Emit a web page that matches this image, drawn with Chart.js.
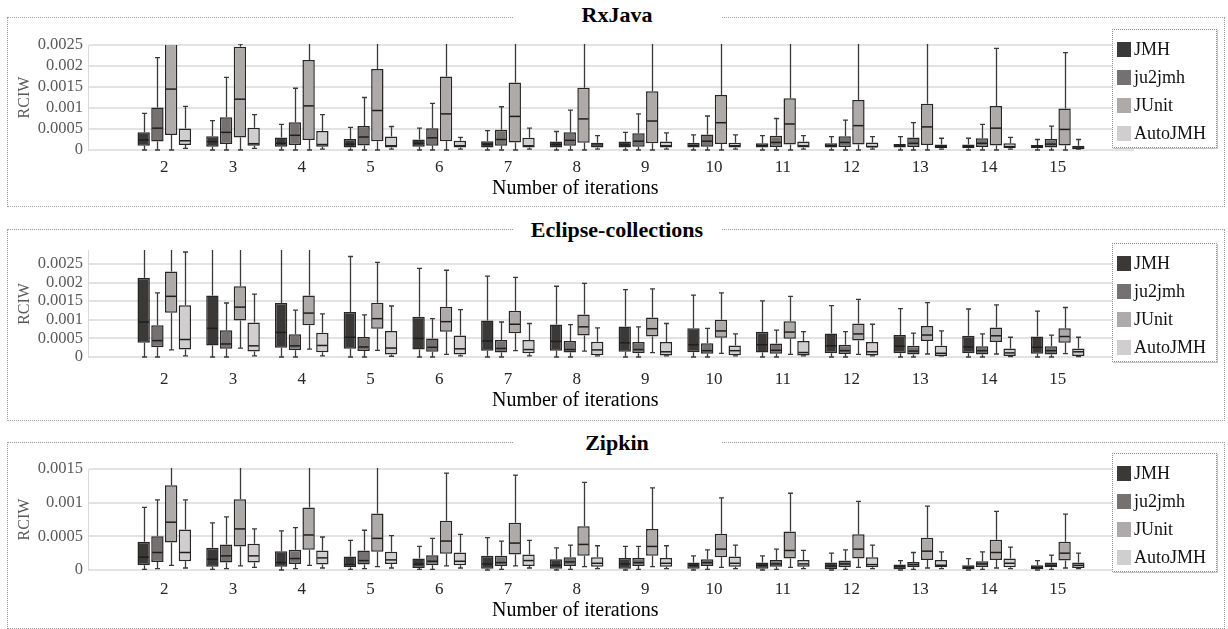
<!DOCTYPE html>
<html>
<head>
<meta charset="utf-8">
<script src="https://cdn.jsdelivr.net/npm/chart.js@4.4.1/dist/chart.umd.min.js"></script>
<style>
  body { margin: 0; width: 1228px; height: 629px; background: #fff; position: relative; overflow: hidden;
         font-family: 'Liberation Serif', 'Times New Roman', serif; }
  .panel { position: absolute; left: 7px; width: 1216px; border: 1px dotted #9a9a9a; }
  .title { position: absolute; left: 513px; width: 208px; height: 26px; line-height: 26px; text-align: center;
           background: #fff; font-weight: bold; font-size: 22px; color: #000; z-index: 3; }
  .plot { position: absolute; left: 0; width: 1228px; z-index: 2; }
  .legend { position: absolute; left: 1112px; width: 103px; height: 117px; border: 1px dotted #8c8c8c;
            box-shadow: 1px 1px 0 #c8c8c8; background: #fff; z-index: 4; }
  .legend div { position: absolute; left: 4px; height: 20px; line-height: 20px; font-size: 18px; color: #111; white-space: nowrap; }
  .legend span { display: inline-block; width: 14px; height: 15px; vertical-align: -2px; margin-right: 3px; }
</style>
</head>
<body>

<div class="panel" style="top:17px;height:188px"></div>
<div class="title" style="top:2px">RxJava</div>
<div class="plot" style="top:20px;height:185px"><canvas id="rx"></canvas></div>
<div class="legend" id="leg-rx" style="top:29px"></div>

<div class="panel" style="top:229px;height:190px"></div>
<div class="title" style="top:217px">Eclipse-collections</div>
<div class="plot" style="top:236px;height:176px"><canvas id="ec"></canvas></div>
<div class="legend" id="leg-ec" style="top:243px"></div>

<div class="panel" style="top:442px;height:185px"></div>
<div class="title" style="top:430px">Zipkin</div>
<div class="plot" style="top:452px;height:173px"><canvas id="zk"></canvas></div>
<div class="legend" id="leg-zk" style="top:453px"></div>

<script>
// --- Data: one row per iteration count, [min, q1, median, q3, max] ---
const categories = [2, 3, 4, 5, 6, 7, 8, 9, 10, 11, 12, 13, 14, 15];
const seriesNames = ['JMH', 'ju2jmh', 'JUnit', 'AutoJMH'];
const seriesColors = ['#3b3838', '#767171', '#aeaaaa', '#d0cece'];

const rxTicks = [0, 0.0005, 0.001, 0.0015, 0.002, 0.0025];
const ecTicks = [0, 0.0005, 0.001, 0.0015, 0.002, 0.0025];
const zkTicks = [0, 0.0005, 0.001, 0.0015];

// RxJava
const rxJMH = [
  [0, 0.0001, 0.00024, 0.00042, 0.00087], [0, 0.00008, 0.0002, 0.00033, 0.0007],
  [0, 0.00008, 0.00016, 0.0003, 0.00061], [0, 0.00006, 0.00014, 0.00026, 0.00054],
  [0, 0.00008, 0.00016, 0.00025, 0.00052], [0, 0.00006, 0.00014, 0.00021, 0.00046],
  [0, 0.00006, 0.00013, 0.0002, 0.00044], [0, 0.00006, 0.00012, 0.0002, 0.00042],
  [0, 0.00006, 0.0001, 0.00017, 0.00036], [0, 0.00006, 0.0001, 0.00016, 0.00034],
  [0, 0.00006, 0.0001, 0.00016, 0.00032], [0, 0.00006, 0.0001, 0.00014, 0.00032],
  [0, 0.00004, 0.00008, 0.00013, 0.00028], [0, 0.00004, 0.00008, 0.00012, 0.00025]
];
const rxJu2jmh = [
  [0, 0.0002, 0.00052, 0.00101, 0.0022], [0, 0.00014, 0.00042, 0.00078, 0.00173],
  [0, 0.00012, 0.00035, 0.00066, 0.00147], [0, 0.00011, 0.00031, 0.00057, 0.00125],
  [0, 0.0001, 0.00029, 0.00052, 0.00111], [0, 0.0001, 0.00025, 0.00048, 0.00103],
  [0, 0.0001, 0.00023, 0.00042, 0.00095], [0, 0.00008, 0.00021, 0.0004, 0.00086],
  [0, 0.00008, 0.00021, 0.00037, 0.00081], [0, 0.00007, 0.00018, 0.00034, 0.00075],
  [0, 0.00007, 0.00018, 0.00033, 0.00071], [0, 0.00007, 0.00016, 0.0003, 0.00065],
  [0, 0.00007, 0.00016, 0.00028, 0.00061], [0, 0.00006, 0.00014, 0.00026, 0.00057]
];
const rxJUnit = [
  [0, 0.00036, 0.00145, 0.003, 0.0055], [0, 0.0003, 0.00121, 0.00246, 0.00252],
  [0, 0.00024, 0.00105, 0.00214, 0.0045], [0, 0.00021, 0.00094, 0.00193, 0.0042],
  [0, 0.00021, 0.00086, 0.00175, 0.004], [0, 0.00018, 0.0008, 0.00161, 0.0038],
  [0, 0.00017, 0.00074, 0.00148, 0.0035], [0, 0.00016, 0.00069, 0.0014, 0.0033],
  [0, 0.00014, 0.00065, 0.00131, 0.0031], [0, 0.00013, 0.00062, 0.00123, 0.003],
  [0, 0.00013, 0.00058, 0.00119, 0.0029], [0, 0.00012, 0.00055, 0.0011, 0.0027],
  [0, 0.00011, 0.00052, 0.00105, 0.00242], [0, 0.00011, 0.00049, 0.00099, 0.00232]
];
const rxAutoJMH = [
  [0.00004, 0.00012, 0.00022, 0.00051, 0.00104], [0.00004, 0.0001, 0.00015, 0.00053, 0.00084],
  [0.00002, 0.00008, 0.00013, 0.00045, 0.00084], [0.00002, 0.00006, 0.0001, 0.00032, 0.00056],
  [0.00002, 0.00006, 0.0001, 0.00022, 0.0003], [0.00002, 0.00006, 0.0001, 0.00029, 0.00052],
  [0.00002, 0.00006, 0.00012, 0.00017, 0.00034], [0.00002, 0.00006, 0.0001, 0.0002, 0.00041],
  [0.00002, 0.00006, 0.0001, 0.00017, 0.00036], [0.00002, 0.00006, 0.0001, 0.0002, 0.00034],
  [0.00002, 0.00006, 0.00008, 0.00018, 0.00032], [0.00002, 0.00004, 0.00008, 0.00013, 0.00028],
  [0.00002, 0.00004, 0.00008, 0.00016, 0.0003], [0.00002, 0.00002, 0.00005, 0.0001, 0.00025]
];

// Eclipse-collections
const ecJMH = [
  [0, 0.00038, 0.00094, 0.00213, 0.0035], [0, 0.00031, 0.00077, 0.00165, 0.0035],
  [0, 0.00025, 0.00066, 0.00145, 0.0034], [0, 0.00022, 0.00053, 0.00121, 0.0027],
  [0, 0.0002, 0.0005, 0.00108, 0.00238], [0, 0.00017, 0.00043, 0.00098, 0.00217],
  [0, 0.00017, 0.00042, 0.00087, 0.0019], [0, 0.00014, 0.00038, 0.00082, 0.00181],
  [0, 0.00013, 0.00033, 0.00077, 0.00166], [0, 0.00012, 0.00033, 0.00068, 0.00151],
  [0, 0.0001, 0.0003, 0.00063, 0.00138], [0, 0.0001, 0.00029, 0.00059, 0.0013],
  [0, 0.0001, 0.00027, 0.00057, 0.00129], [0, 0.00009, 0.00026, 0.00055, 0.00123]
];
const ecJu2jmh = [
  [0, 0.00026, 0.00044, 0.00085, 0.00172], [0, 0.00022, 0.00035, 0.00072, 0.00145],
  [0, 0.00018, 0.0003, 0.00061, 0.00126], [0, 0.00016, 0.00027, 0.00054, 0.00113],
  [0, 0.00014, 0.00026, 0.0005, 0.00103], [0, 0.00012, 0.00023, 0.00046, 0.00094],
  [0, 0.00012, 0.0002, 0.00043, 0.00087], [0, 0.0001, 0.0002, 0.0004, 0.00081],
  [0, 0.00009, 0.00017, 0.00037, 0.00077], [0, 0.00009, 0.00018, 0.00036, 0.00072],
  [0, 0.00008, 0.00017, 0.00033, 0.00068], [0, 0.00007, 0.00016, 0.0003, 0.00064],
  [0, 0.00007, 0.00017, 0.00029, 0.00062], [0, 0.00007, 0.00017, 0.00029, 0.00059]
];
const ecJUnit = [
  [0.00019, 0.00119, 0.00163, 0.0023, 0.0034], [0.00024, 0.00098, 0.00134, 0.0019, 0.0033],
  [0.00021, 0.00085, 0.00118, 0.00165, 0.0031], [0.00018, 0.00076, 0.00103, 0.00146, 0.00254],
  [0.00007, 0.00068, 0.00095, 0.00135, 0.00233], [0.00017, 0.00064, 0.00088, 0.00124, 0.00214],
  [0.00016, 0.00058, 0.00081, 0.00114, 0.00198], [0.00012, 0.00055, 0.00076, 0.00106, 0.00183],
  [0.0001, 0.00052, 0.0007, 0.001, 0.00172], [0.00007, 0.00049, 0.00067, 0.00096, 0.00163],
  [0.00007, 0.00044, 0.00062, 0.0009, 0.00155], [0.00008, 0.00043, 0.00059, 0.00083, 0.00146],
  [0.00008, 0.0004, 0.00057, 0.00079, 0.0014], [0.00009, 0.00038, 0.00055, 0.00077, 0.00133]
];
const ecAutoJMH = [
  [0.00003, 0.0002, 0.00047, 0.00139, 0.00282], [0.00003, 0.00015, 0.0003, 0.00093, 0.00169],
  [0.00003, 0.00013, 0.00031, 0.00065, 0.00116], [0.00002, 0.00007, 0.00024, 0.0007, 0.00137],
  [0.00003, 0.00007, 0.00022, 0.00058, 0.00127], [0.00003, 0.0001, 0.0002, 0.00046, 0.0009],
  [0.00003, 0.00005, 0.00019, 0.00041, 0.00078], [0.00003, 0.00004, 0.00014, 0.0004, 0.0009],
  [0.00003, 0.00005, 0.00017, 0.00031, 0.00062], [0.00003, 0.00004, 0.00012, 0.00043, 0.00068],
  [0.00003, 0.00004, 0.00014, 0.0004, 0.00088], [0.00003, 0.00003, 0.0001, 0.0003, 0.0007],
  [0.00001, 0.00003, 0.00011, 0.00023, 0.00053], [0.00001, 0.00003, 0.00014, 0.00023, 0.00053]
];

// Zipkin
const zkJMH = [
  [0.00001, 0.00007, 0.00019, 0.00042, 0.00093], [0.00001, 0.00005, 0.00016, 0.00033, 0.0007],
  [0, 0.00005, 0.00011, 0.00028, 0.00058], [0.00001, 0.00004, 0.00008, 0.0002, 0.00044],
  [0.00001, 0.00003, 0.00009, 0.00017, 0.00035], [0, 0.00002, 0.00009, 0.00021, 0.00048],
  [0, 0.00002, 0.00007, 0.00016, 0.00033], [0, 0.00002, 0.00009, 0.00018, 0.00035],
  [0, 0.00002, 0.00007, 0.00011, 0.00021], [0, 0.00002, 0.00007, 0.00011, 0.00021],
  [0, 0.00001, 0.00006, 0.00011, 0.00025], [0, 0.00001, 0.00005, 0.00008, 0.00014],
  [0, 0.00001, 0.00004, 0.00007, 0.00017], [0, 0.00001, 0.00004, 0.00007, 0.00014]
];
const zkJu2jmh = [
  [0.00002, 0.00012, 0.00026, 0.0005, 0.00104], [0.00002, 0.00011, 0.00021, 0.00038, 0.00079],
  [0.00002, 0.00009, 0.00017, 0.0003, 0.00063], [0.00002, 0.00008, 0.00014, 0.00029, 0.00059],
  [0.00001, 0.00007, 0.00013, 0.00022, 0.00047], [0.00001, 0.00006, 0.00011, 0.00021, 0.00043],
  [0.00001, 0.00006, 0.00012, 0.00019, 0.00037], [0.00001, 0.00006, 0.00011, 0.00018, 0.00035],
  [0.00001, 0.00006, 0.00011, 0.00016, 0.0003], [0.00001, 0.00005, 0.00009, 0.00015, 0.00031],
  [0.00001, 0.00004, 0.00009, 0.00014, 0.0003], [0.00001, 0.00004, 0.00008, 0.00012, 0.00026],
  [0.00001, 0.00004, 0.00009, 0.00013, 0.00027], [0.00001, 0.00004, 0.00007, 0.00011, 0.00022]
];
const zkJUnit = [
  [0.00007, 0.00041, 0.00071, 0.00126, 0.0019], [0.00006, 0.00035, 0.00061, 0.00105, 0.0018],
  [0.00007, 0.0003, 0.00052, 0.00093, 0.0017], [0.00005, 0.00027, 0.00047, 0.00084, 0.0016],
  [0.00006, 0.00024, 0.00043, 0.00073, 0.00144], [0.00006, 0.00023, 0.0004, 0.0007, 0.00141],
  [0.00005, 0.00021, 0.00038, 0.00065, 0.0013], [0.00005, 0.00021, 0.00035, 0.00061, 0.00122],
  [0.00004, 0.00019, 0.00031, 0.00054, 0.00107], [0.00004, 0.00017, 0.00029, 0.00057, 0.00114],
  [0.00004, 0.00017, 0.00031, 0.00053, 0.00102], [0.00003, 0.00015, 0.00028, 0.00048, 0.00095],
  [0.00003, 0.00015, 0.00026, 0.00045, 0.00087], [0.00003, 0.00014, 0.00025, 0.00042, 0.00083]
];
const zkAutoJMH = [
  [0.00003, 0.00013, 0.00026, 0.0006, 0.00104], [0.00004, 0.00011, 0.00021, 0.00039, 0.00061],
  [0.00003, 0.00008, 0.00018, 0.00029, 0.00049], [0.00003, 0.00009, 0.00015, 0.00027, 0.00051],
  [0.00003, 0.00007, 0.00013, 0.00026, 0.00053], [0.00003, 0.00006, 0.00014, 0.00023, 0.00044],
  [0.00002, 0.00005, 0.0001, 0.00019, 0.00036], [0.00002, 0.00005, 0.0001, 0.00018, 0.00036],
  [0.00002, 0.00005, 0.0001, 0.0002, 0.00037], [0.00002, 0.00005, 0.00009, 0.00015, 0.00029],
  [0.00002, 0.00004, 0.00008, 0.00019, 0.00037], [0.00002, 0.00004, 0.00007, 0.00015, 0.00027],
  [0.00002, 0.00004, 0.0001, 0.00017, 0.00034], [0.00002, 0.00003, 0.00007, 0.00011, 0.00025]
];

const FONT = "'Liberation Serif', 'Times New Roman', serif";

// Whiskers go behind the boxes, median lines on top of them
function drawBoxParts(chart, medians) {
    const { ctx, chartArea: a, scales: { y } } = chart;
    ctx.save();
    ctx.beginPath();
    ctx.rect(a.left, a.top - 1, a.right - a.left, a.bottom - a.top + 2);
    ctx.clip();
    chart.data.datasets.forEach((ds, k) => {
        chart.getDatasetMeta(k).data.forEach((bar, i) => {
            const [lo, q1, med, q3, hi] = ds.stats[i].map(v => y.getPixelForValue(v));
            const x = Math.round(bar.x) + 0.5;
            ctx.beginPath();
            if (medians) {
                ctx.strokeStyle = '#1e1e1e';
                ctx.lineWidth = 1.5;
                ctx.moveTo(bar.x - bar.width / 2 + 1, med);
                ctx.lineTo(bar.x + bar.width / 2 - 1, med);
            } else {
                ctx.strokeStyle = '#3a3a3a';
                ctx.lineWidth = 1.3;
                ctx.moveTo(x, hi); ctx.lineTo(x, q3);
                ctx.moveTo(x, q1); ctx.lineTo(x, lo);
                ctx.moveTo(x - 2.5, hi); ctx.lineTo(x + 2.5, hi);
                ctx.moveTo(x - 2.5, lo); ctx.lineTo(x + 2.5, lo);
            }
            ctx.stroke();
        });
    });
    ctx.restore();
}

const boxParts = {
    id: 'boxParts',
    beforeDatasetsDraw(chart) { drawBoxParts(chart, false); },
    afterDatasetsDraw(chart) { drawBoxParts(chart, true); }
};

// x axis title sits left of the plot centre in the original, so draw it by hand
const xTitle = {
    id: 'xTitle',
    afterDraw(chart, args, opts) {
        const { ctx, chartArea, scales: { x } } = chart;
        ctx.save();
        ctx.font = '20px ' + FONT;
        ctx.fillStyle = '#000';
        ctx.textAlign = 'center';
        ctx.textBaseline = 'middle';
        ctx.fillText(opts.text, x.getPixelForValue(opts.at), chartArea.bottom + opts.offset);
        ctx.restore();
    }
};

const panels = [
    { id: 'rx', groups: [rxJMH, rxJu2jmh, rxJUnit, rxAutoJMH], ticks: rxTicks, yMax: 0.0025, padTop: 25, tickPad: 7, titleOffset: 39 },
    { id: 'ec', groups: [ecJMH, ecJu2jmh, ecJUnit, ecAutoJMH], ticks: ecTicks, yMax: 0.00285, padTop: 12, tickPad: 12, titleOffset: 44 },
    { id: 'zk', groups: [zkJMH, zkJu2jmh, zkJUnit, zkAutoJMH], ticks: zkTicks, yMax: 0.0015, padTop: 17, tickPad: 9, titleOffset: 41 }
];

panels.forEach(p => {
    // --- legend ---
    const leg = document.getElementById('leg-' + p.id);
    seriesNames.forEach((name, k) => {
        const row = document.createElement('div');
        row.style.top = (9 + k * 28) + 'px';
        row.innerHTML = '<span style="background:' + seriesColors[k] + '"></span>' + name;
        leg.appendChild(row);
    });

    // --- box plot: floating bars for q1..q3, whiskers/medians via plugin ---
    const datasets = p.groups.map((rows, k) => ({
        label: seriesNames[k],
        data: categories.map((c, i) => ({ x: c, y: [rows[i][1], rows[i][3]] })),
        stats: rows,
        backgroundColor: seriesColors[k],
        borderColor: '#262626',
        borderWidth: 1.5,
        borderSkipped: false,
        categoryPercentage: 0.8,
        barPercentage: 0.9,
        clip: 0
    }));

    new Chart(document.getElementById(p.id), {
        type: 'bar',
        data: { datasets },
        plugins: [boxParts, xTitle],
        options: {
            responsive: true,
            maintainAspectRatio: false,
            animation: false,
            layout: { padding: { top: p.padTop, right: 94, left: 0, bottom: 0 } },
            plugins: {
                legend: { display: false },
                tooltip: { enabled: false },
                xTitle: { text: 'Number of iterations', at: 7.98, offset: p.titleOffset }
            },
            scales: {
                x: {
                    type: 'linear',
                    min: 0.89,
                    max: 16.11,
                    offset: false,
                    afterFit: s => { s.height = 55; },
                    afterBuildTicks: s => { s.ticks = categories.map(v => ({ value: v })); },
                    grid: { display: false, drawTicks: false, offset: false },
                    border: { display: false },
                    ticks: { padding: p.tickPad, color: '#262626', autoSkip: false, maxRotation: 0,
                             font: { family: FONT, size: 17 }, callback: v => String(v) }
                },
                y: {
                    min: 0,
                    max: p.yMax,
                    afterFit: s => { s.width = 88; },
                    afterBuildTicks: s => { s.ticks = p.ticks.map(v => ({ value: v })); },
                    grid: { color: '#e3e3e3', lineWidth: 2, drawTicks: false },
                    border: { display: true, color: '#d9d9d9', width: 1 },
                    ticks: { padding: 5, color: '#595959', autoSkip: false, font: { family: FONT, size: 16.5 },
                             callback: v => String(v) },
                    title: { display: true, text: 'RCIW', color: '#595959',
                             font: { family: FONT, size: 16 }, padding: { top: 15, bottom: 0 } }
                }
            }
        }
    });
});
</script>
</body>
</html>
